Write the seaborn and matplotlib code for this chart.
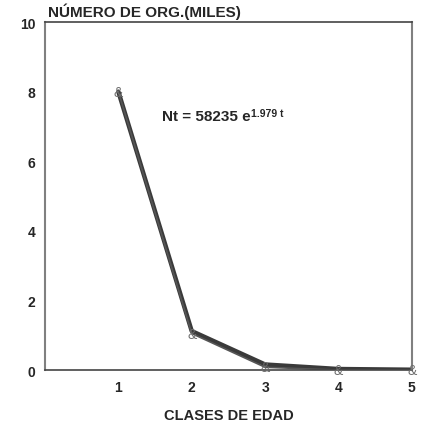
import numpy as np
import pandas as pd
import matplotlib
matplotlib.use("Agg")
import matplotlib.pyplot as plt
import seaborn as sns

# datos
clases = [1, 2, 3, 4, 5]
observado = [8.0, 1.05, 0.08, 0.0, 0.0]
ajustado = [8.0, 1.12, 0.16, 0.03, 0.01]
y_ticks = [0, 2, 4, 6, 8, 10]
x_ticks = [1, 2, 3, 4, 5]

sns.set_style("white")
plt.rcParams['font.family'] = ['Liberation Sans', 'DejaVu Sans']
plt.rcParams['font.weight'] = 'bold'

df = pd.DataFrame({"clase": clases, "obs": observado, "fit": ajustado})

fig = plt.figure(figsize=(4.22, 4.27), dpi=100)
ax = fig.add_axes([0.1066, 0.131, 0.8694, 0.815])

sns.lineplot(data=df, x="clase", y="fit", ax=ax, color="#3a3a3a", linewidth=3.2)
sns.lineplot(data=df, x="clase", y="obs", ax=ax, color="#555555", linewidth=1.2)
# marcadores tipo "&" como en el original
for cx, cy in zip(df["clase"], df["obs"]):
    ax.text(cx, cy, "&", fontsize=10, color="#6e6e6e", ha="center", va="center",
            fontweight="normal", zorder=5, clip_on=False)

ax.set_xlim(0, 5)
ax.set_ylim(0, 10)
ax.set_xticks(x_ticks)
ax.set_yticks(y_ticks)
ax.tick_params(axis="both", labelsize=10, length=4, width=1, color="#333333", pad=3)
for lab in ax.get_xticklabels() + ax.get_yticklabels():
    lab.set_fontweight("bold")

ax.set_xlabel("CLASES DE EDAD", fontsize=10.5, fontweight="bold", labelpad=10)
ax.set_ylabel("")

for side in ["left", "right"]:
    ax.spines[side].set_color("#808080")
    ax.spines[side].set_linewidth(1.5)
for side in ["top", "bottom"]:
    ax.spines[side].set_color("#444444")
    ax.spines[side].set_linewidth(1.2)

fig.text(48 / 422, 1 - 12 / 427, "NÚMERO DE ORG.(MILES)", fontsize=11,
         fontweight="bold", ha="left", va="center")

# ecuacion del ajuste con exponente como superindice
eq = ax.text(1.6, 7.3, "Nt = 58235 e", fontsize=11, fontweight="bold",
             ha="left", va="center")
ax.annotate("1.979 t", xy=(1.0, 1.0), xycoords=eq, xytext=(0.3, 1.0),
            textcoords="offset points", fontsize=7.5, fontweight="bold",
            ha="left", va="top")

fig.savefig("out.png", dpi=100)
